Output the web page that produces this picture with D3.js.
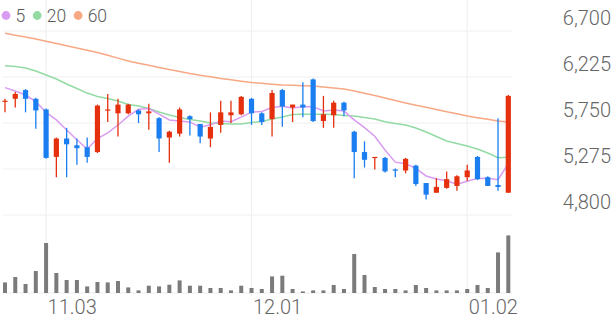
<!DOCTYPE html>
<html>
<head>
<meta charset="utf-8">
<script src="https://cdn.jsdelivr.net/npm/d3@7"></script>
<style>
  html, body { margin: 0; padding: 0; background: #fff; }
  svg { display: block; }
  text { font-family: Roboto, "Noto Sans", sans-serif; }
</style>
</head>
<body>
<svg id="chart" width="616" height="321"></svg>
<script>
const dates = ["10.28","10.29","10.30","10.31","11.03","11.04","11.05","11.06","11.07","11.10",
  "11.11","11.12","11.13","11.14","11.17","11.18","11.19","11.20","11.21","11.24",
  "11.25","11.26","11.27","11.28","12.01","12.02","12.03","12.04","12.05","12.08",
  "12.09","12.10","12.11","12.12","12.15","12.16","12.17","12.18","12.19","12.22",
  "12.23","12.24","12.26","12.29","12.30","01.02","01.05","01.06","01.07","01.08"];
const open  = [5970,6000,6090,6000,5890,5400,5590,5520,5500,5450,5880,5850,5850,5880,5850,5800,5600,5640,5820,5740,
  5590,5730,5830,5840,6000,5850,5790,6090,5910,5940,6200,5770,5830,5960,5660,5450,5390,5390,5270,5260,
  5310,5130,5030,5080,5100,5190,5400,5190,5110,5030];
const high  = [6000,6070,6100,6010,5900,5600,5700,5590,5600,5940,6050,6000,5950,5890,5950,5810,5670,5910,5830,5740,
  5860,5980,5980,6030,6010,5860,6090,6100,5940,6170,6210,6030,5980,5970,5670,5560,5400,5400,5280,5390,
  5320,5130,5180,5250,5210,5320,5410,5200,5800,6040];
const low   = [5860,5910,5860,5690,5380,5190,5190,5320,5340,5440,5760,5610,5840,5750,5680,5450,5340,5610,5620,5540,
  5500,5650,5750,5830,5730,5730,5610,5710,5760,5810,5760,5700,5700,5820,5180,5290,5270,5240,5190,5230,
  5100,4960,5030,5070,5050,5150,5160,5100,5050,5030];
const close = [5980,6050,6000,5880,5390,5590,5530,5490,5400,5930,5890,5940,5940,5840,5870,5590,5660,5890,5790,5610,
  5710,5860,5860,6020,5850,5760,6060,5920,5940,5910,5770,5840,5960,5880,5450,5370,5400,5250,5260,5380,
  5120,5010,5090,5170,5200,5260,5170,5100,5090,6030];
const volume = [10.6,16,9,22,50,20,13,13,6.6,11,10.6,12,5.6,2.6,7.3,6.6,8.3,12.6,7.3,7.3,
  5,5,2.6,7.3,5,4,16.6,17.3,4,1.6,2.6,2.6,8,4,39,18,6,4,4,2.6,
  8,5,2.6,2.6,2.6,4,8,5,40.6,57.6];
const ma5  = [6115,6080,6039,5970,5860,5782,5678,5577,5482,5589,5649,5729,5820,5891,5899,5842,5782,5771,5761,5707,
  5731,5771,5764,5811,5862,5869,5910,5922,5905,5917,5919,5875,5884,5873,5782,5702,5613,5471,5346,5330,
  5280,5203,5171,5154,5118,5148,5178,5180,5164,5331];
const ma20 = [6342,6333,6318,6287,6246,6204,6153,6106,6059,6023,6003,5977,5941,5926,5900,5864,5833,5807,5786,5771,
  5750,5745,5740,5740,5755,5765,5791,5812,5838,5840,5840,5840,5838,5828,5822,5807,5791,5764,5745,5730,
  5699,5657,5611,5565,5539,5513,5482,5440,5392,5396];
const ma60 = [6676,6657,6637,6617,6595,6571,6548,6524,6502,6478,6449,6420,6390,6367,6346,6323,6302,6282,6261,6244,
  6227,6210,6196,6182,6168,6160,6151,6142,6139,6135,6132,6122,6111,6101,6080,6057,6034,6008,5982,5957,
  5934,5912,5890,5867,5845,5823,5805,5788,5771,5761];
const priceTicks = [4800,5275,5750,6225,6700];
const dateTicks = ["11.03","12.01","01.02"];
const legendItems = [{label:"5", color:"#d99cf2"},{label:"20", color:"#93dba3"},{label:"60", color:"#f9a884"}];

const svg = d3.select("#chart");
const UP = "#e5300e", DOWN = "#1a7ef0";

const x = d3.scalePoint().domain(dates).range([5, 508.3]);
const y = d3.scaleLinear().domain([4800, 6700]).range([215, 31]);
const yv = d3.scaleLinear().domain([0, 78]).range([293, 215]);

// horizontal grid
const grid = svg.append("g");
grid.selectAll("line.h").data(priceTicks).join("line")
  .attr("x1", 3).attr("x2", 512)
  .attr("y1", d => y(d)).attr("y2", d => y(d))
  .attr("stroke", "#f0f0f0").attr("stroke-width", 1.2);
grid.append("line").attr("x1", 3).attr("x2", 512)
  .attr("y1", yv(0)).attr("y2", yv(0)).attr("stroke", "#eeeeee").attr("stroke-width", 1.2);
// vertical grid
grid.selectAll("line.v").data(dateTicks).join("line")
  .attr("x1", d => x(d)).attr("x2", d => x(d))
  .attr("y1", 0).attr("y2", 296)
  .attr("stroke", "#f0f0f0").attr("stroke-width", 1.2);

// volume
svg.append("g").selectAll("rect").data(dates).join("rect")
  .attr("x", d => x(d) - 2).attr("width", 4)
  .attr("y", (d, i) => yv(volume[i]))
  .attr("height", (d, i) => yv(0) - yv(volume[i]))
  .attr("fill", "#7b7b7b");

// MA lines
const line = arr => d3.line().x((d, i) => x(dates[i])).y(d => y(d))(arr);
svg.append("path").attr("d", line(ma60)).attr("fill", "none").attr("stroke", legendItems[2].color).attr("stroke-width", 1.5);
svg.append("path").attr("d", line(ma20)).attr("fill", "none").attr("stroke", legendItems[1].color).attr("stroke-width", 1.5);
svg.append("path").attr("d", line(ma5)).attr("fill", "none").attr("stroke", legendItems[0].color).attr("stroke-width", 1.5);

// candles
const candles = svg.append("g").selectAll("g").data(dates).join("g");
const col = i => close[i] >= open[i] ? UP : DOWN;
candles.append("line")
  .attr("x1", d => x(d)).attr("x2", d => x(d))
  .attr("y1", (d, i) => y(high[i])).attr("y2", (d, i) => y(low[i]))
  .attr("stroke", (d, i) => col(i)).attr("stroke-width", 1.3);
candles.append("rect")
  .attr("x", d => x(d) - 2.6).attr("width", 5.2)
  .attr("y", (d, i) => y(Math.max(open[i], close[i])))
  .attr("height", (d, i) => Math.max(1.2, Math.abs(y(open[i]) - y(close[i]))))
  .attr("fill", (d, i) => col(i));

// y axis labels
const yAxis = svg.append("g").attr("transform", "translate(611,0)")
  .call(d3.axisLeft(y).tickValues(priceTicks).tickFormat(d3.format(",")).tickSize(0));
yAxis.select(".domain").remove();
yAxis.selectAll("text").attr("x", 0).attr("dy", "-0.33em")
  .attr("text-anchor", "end").attr("fill", "#666666")
  .style("font-size", "20px").style("font-weight", 300);

// x axis labels
const xAxis = svg.append("g").attr("transform", "translate(0,296)")
  .call(d3.axisBottom(x).tickValues(dateTicks).tickSize(0));
xAxis.select(".domain").remove();
xAxis.selectAll("text").attr("y", 0).attr("dy", "0.92em").attr("x", 1)
  .attr("text-anchor", "start").attr("fill", "#666666")
  .style("font-size", "20px").style("font-weight", 300);

// legend
const lg = svg.append("g");
let lx = 6;
legendItems.forEach(it => {
  lg.append("circle").attr("cx", lx).attr("cy", 15.5).attr("r", 4.4).attr("fill", it.color);
  const t = lg.append("text").attr("x", lx + 9.5).attr("y", 21.5).text(it.label)
    .attr("fill", "#5a5a5a").style("font-size", "17.5px").style("font-weight", 300);
  lx += 9.5 + t.node().getComputedTextLength() + 12;
});
</script>
</body>
</html>
